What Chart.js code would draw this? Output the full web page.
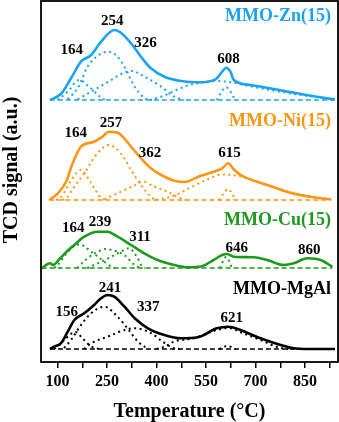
<!DOCTYPE html>
<html>
<head>
<meta charset="utf-8">
<script src="https://cdn.jsdelivr.net/npm/chart.js@4.4.0/dist/chart.umd.min.js"></script>
<style>
html, body { margin: 0; padding: 0; background: #fff; }
#caixa { width: 339px; height: 422px; }
</style>
</head>
<body>
<div id="caixa"><canvas id="grafico"></canvas></div>
<script>

// eixo x (temperatura, °C)
const tickValues = [100, 175, 250, 325, 400, 475, 550, 625, 700, 775, 850, 925];
const tickLabels = [100, 250, 400, 550, 700, 850];

// pontos [temperatura, sinal acima da linha base]
const znTotal = [[77,0],[110,6],[141,21.7],[171,38.3],[202,45],[232,58.3],[272,70],[292,67.3],[323,56.7],[353,43.3],[383,31.7],[424,23.3],[474,19],[525,17.7],[579,20.7],[599,28.3],[611,32.3],[624,28.3],[634,20],[685,15],[784,9.3],[885,3.3],[941,0.7]];
const znA = [[100,0],[130,8],[165,20],[200,12],[230,3],[245,0]];
const znB = [[131,0.7],[161,11.7],[191,33.3],[225,45],[254,48.3],[280,44],[303,33.3],[334,13.3],[365,1.7],[385,0]];
const znC = [[161,0.7],[202,8.3],[254,18.3],[300,27],[325,29],[360,24],[414,13.3],[454,3.3],[484,0]];
const znD = [[380,0],[420,4],[460,10],[500,15],[540,17.5],[580,19],[620,18],[680,14],[760,9],[850,4.5],[940,0.5]];
const znE = [[582,0],[611,12.7],[639,0]];
const znBase = [77, 941];

const niTotal = [[75,0],[101,6.7],[126,18.3],[146,36.7],[171,53.3],[211,58.3],[236,63.3],[256,68.3],[282,67.3],[302,61.7],[327,51.7],[353,41.7],[383,31.7],[414,25],[454,19.3],[484,18],[532,24],[573,28.3],[599,31.7],[617,36.7],[634,30.7],[655,25],[736,15],[805,7.3],[876,2.7],[927,0.7]];
const niA = [[95,0],[112,3.3],[142,20],[171,30],[202,16.7],[232,1.7],[240,0]];
const niB = [[115,0],[126,1.7],[151,13.3],[181,26.7],[221,46.7],[256,55],[292,46.7],[323,30],[353,15],[383,3.3],[400,0]];
const niC = [[242,0.7],[292,8.3],[330,14],[360,18.3],[393,13.3],[433,8.3],[474,1.7],[490,0]];
const niD = [[400,0],[450,4],[500,12],[550,20],[600,25.5],[650,24],[700,19],[780,10],[860,4],[930,0.5]];
const niE = [[589,0],[617,10.7],[640,0]];
const niBase = [75, 927];

const cuTotal = [[52,-0.3],[77,4.7],[87,3],[108,9.7],[139,19.7],[151,23],[181,31.3],[221,36.3],[251,36.3],[282,31.3],[323,23],[363,14.7],[403,8],[454,3],[494,0.7],[535,1.5],[573,8],[599,13],[614,14],[634,11.3],[695,10.7],[735,8],[786,3],[816,4.7],[857,9.7],[897,8],[933,1.3]];
const cuA = [[90,0],[101,3],[131,16.3],[166,23.7],[202,16.3],[242,6.3],[265,1],[275,0]];
const cuB = [[160,0],[191,9.7],[220,16],[245,19],[275,17],[302,13],[334,3],[350,0]];
const cuC = [[190,0],[211,3],[254,9.7],[290,16],[316,19.7],[343,9.7],[353,3],[365,0]];
const cuD = [[592,0],[611,11],[629,0]];
const cuBase = [52, 933];

const mgTotal = [[77,0],[90,2.3],[110,5.7],[131,17.3],[151,29],[181,35.7],[211,44],[232,50.7],[252,54],[272,52.3],[303,42.3],[334,30.7],[374,20.7],[424,14],[474,10.7],[525,11.7],[583,20.7],[618,22.3],[654,19],[715,10.7],[776,4],[816,0.7],[850,0],[941,0]];
const mgA = [[90,0],[115,7],[140,15],[155,17],[175,11],[200,3],[225,0]];
const mgB = [[120,1],[141,9],[171,24],[202,35.7],[242,42.3],[282,32.3],[316,19],[344,7.3],[375,0]];
const mgC = [[180,0],[202,5.7],[252,12.3],[303,19],[334,20.7],[383,16],[420,7],[450,1],[470,0]];
const mgD = [[400,0],[430,3],[452,7.3],[513,10.7],[583,19],[618,21],[663,15.7],[715,9],[766,2],[800,0]];
const mgE = [[590,0],[615,3],[640,0]];
const mgBase = [77, 941];

// rótulos dos picos [texto, temperatura, altura]
const znLabels = [['164',143,50],['254',266,79.3],['326',367,56.7],['608',618,40.7]];
const niLabels = [['164',155,66.7],['257',262,76.7],['362',380,46.7],['615',621,46.7]];
const cuLabels = [['164',148,39.7],['239',229,46.3],['311',350,31.3],['646',643,19.7],['860',863,18]];
const mgLabels = [['241',259,60.7],['156',128,37.3],['337',375,42.3],['621',628,30.7]];

const amostras = [
    { nome: 'MMO-Zn(15)', cor: '#1aa3f0', offset: 262, nomeY: 83.3, total: znTotal, partes: [znA, znB, znC, znD, znE], base: znBase, rotulos: znLabels },
    { nome: 'MMO-Ni(15)', cor: '#fa9614', offset: 162, nomeY: 78.3, total: niTotal, partes: [niA, niB, niC, niD, niE], base: niBase, rotulos: niLabels },
    { nome: 'MMO-Cu(15)', cor: '#1b9b1b', offset: 94, nomeY: 48, total: cuTotal, partes: [cuA, cuB, cuC, cuD], base: cuBase, rotulos: cuLabels },
    { nome: 'MMO-MgAl', cor: '#000000', offset: 13, nomeY: 59.7, total: mgTotal, partes: [mgA, mgB, mgC, mgD, mgE], base: mgBase, rotulos: mgLabels }
];

const fonte = 'Liberation Serif';

function pontos(lista, offset) {
    return lista.map(p => ({ x: p[0], y: p[1] + offset }));
}

const datasets = [];
amostras.forEach(a => {
    datasets.push({
        data: pontos(a.total, a.offset),
        borderColor: a.cor,
        borderWidth: 2.6,
        pointRadius: 0,
        cubicInterpolationMode: 'monotone'
    });
    a.partes.forEach(p => {
        datasets.push({
            data: pontos(p, a.offset),
            borderColor: a.cor,
            borderWidth: 2,
            borderDash: [2, 3.5],
            pointRadius: 0,
            cubicInterpolationMode: 'monotone'
        });
    });
    datasets.push({
        data: pontos([[a.base[0], 0], [a.base[1], 0]], a.offset),
        borderColor: a.cor,
        borderWidth: 1.5,
        borderDash: [5, 3],
        pointRadius: 0
    });
});

const moldura = {
    id: 'moldura',
    afterDatasetsDraw(chart) {
        const { ctx, chartArea: c, scales: { x, y } } = chart;
        ctx.save();
        ctx.strokeStyle = '#000';
        ctx.lineWidth = 1.8;
        ctx.strokeRect(c.left, c.top, c.right - c.left, c.bottom - c.top);

        ctx.textBaseline = 'middle';
        amostras.forEach(a => {
            ctx.fillStyle = '#000';
            ctx.textAlign = 'center';
            ctx.font = 'bold 15px "' + fonte + '"';
            a.rotulos.forEach(r => {
                ctx.fillText(r[0], x.getPixelForValue(r[1]), y.getPixelForValue(r[2] + a.offset));
            });
            ctx.fillStyle = a.cor;
            ctx.textAlign = 'right';
            ctx.font = 'bold 18px "' + fonte + '"';
            ctx.fillText(a.nome, x.getPixelForValue(929), y.getPixelForValue(a.nomeY + a.offset));
        });

        // título do eixo y
        ctx.fillStyle = '#000';
        ctx.textAlign = 'center';
        ctx.font = 'bold 20px "' + fonte + '"';
        ctx.translate(12, 170);
        ctx.rotate(-Math.PI / 2);
        ctx.fillText('TCD signal (a.u.)', 0, 0);
        ctx.restore();
    }
};

const ctx = document.getElementById('grafico').getContext('2d');

new Chart(ctx, {
    type: 'line',
    data: { datasets: datasets },
    plugins: [moldura],
    options: {
        responsive: true,
        maintainAspectRatio: false,
        animation: false,
        layout: { padding: { left: 0, right: 1, top: 1, bottom: 0 } },
        plugins: {
            legend: { display: false },
            tooltip: { enabled: false }
        },
        scales: {
            x: {
                type: 'linear',
                min: 50,
                max: 950,
                afterBuildTicks: s => { s.ticks = tickValues.map(v => ({ value: v })); },
                afterFit: s => { s.height = 60; },
                ticks: {
                    autoSkip: false,
                    maxRotation: 0,
                    padding: 4,
                    color: '#000',
                    font: { family: fonte, size: 16, weight: 'bold' },
                    callback: v => tickLabels.includes(v) ? String(v) : ''
                },
                grid: { drawOnChartArea: false, drawTicks: true, tickLength: 6, color: '#000', lineWidth: 1.5 },
                border: { display: false },
                title: {
                    display: true,
                    text: 'Temperature (°C)',
                    color: '#000',
                    padding: { top: 0, bottom: 0 },
                    font: { family: fonte, size: 20, weight: 'bold', lineHeight: 1 }
                }
            },
            y: {
                min: 0,
                max: 361,
                afterFit: s => { s.width = 41; },
                ticks: { display: false },
                grid: { display: false },
                border: { display: false },
                title: { display: false }
            }
        }
    }
});
</script>
</body>
</html>
